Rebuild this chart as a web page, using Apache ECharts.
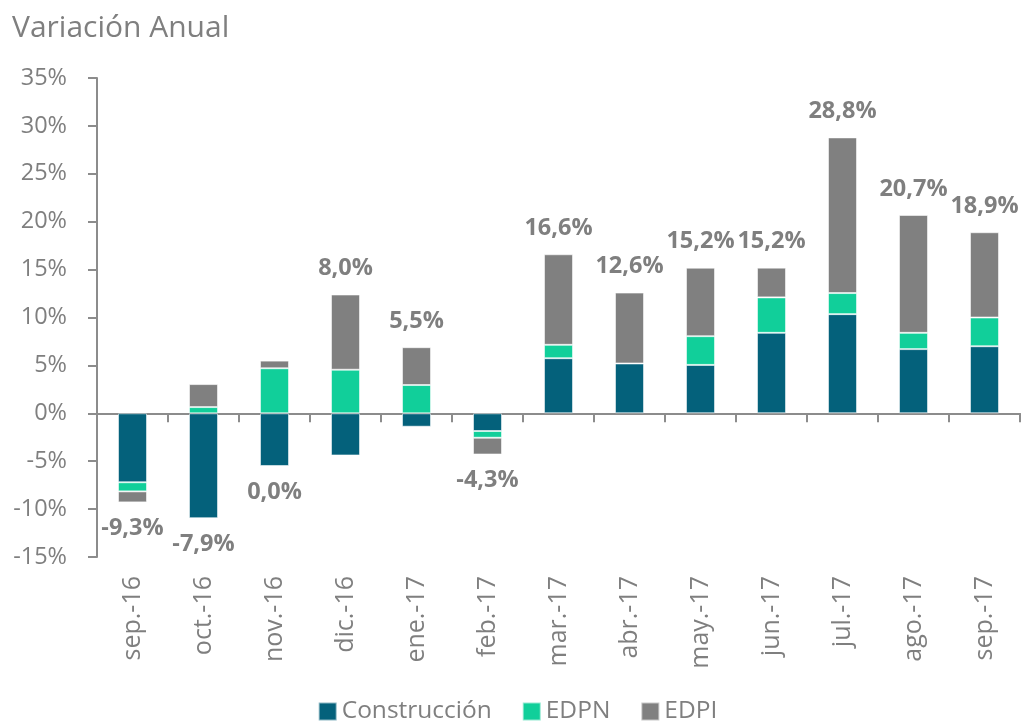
<!DOCTYPE html>
<html><head><meta charset="utf-8">
<script src="https://cdn.jsdelivr.net/npm/echarts@6/dist/echarts.min.js"></script>
<style>html,body{margin:0;padding:0;background:#fff}#c{width:1035px;height:723px}</style>
</head><body><div id="c"></div>
<script>
const categories = ['sep.-16','oct.-16','nov.-16','dic.-16','ene.-17','feb.-17','mar.-17','abr.-17','may.-17','jun.-17','jul.-17','ago.-17','sep.-17'];
const construccion = [-7.2, -10.95, -5.5, -4.4, -1.4, -1.85, 5.75, 5.2, 5.05, 8.4, 10.35, 6.7, 7.0];
const edpn = [-0.95, 0.65, 4.7, 4.55, 2.95, -0.7, 1.4, 0, 3.0, 3.7, 2.2, 1.7, 3.0];
const edpi = [-1.15, 2.4, 0.8, 7.85, 3.95, -1.75, 9.45, 7.4, 7.15, 3.1, 16.25, 12.3, 8.9];
const totalLabels = ['-9,3%','-7,9%','0,0%','8,0%','5,5%','-4,3%','16,6%','12,6%','15,2%','15,2%','28,8%','20,7%','18,9%'];
const seriesNames = ['Construcción','EDPN','EDPI'];
const yTicks = [-15, -10, -5, 0, 5, 10, 15, 20, 25, 30, 35];

const colors = ['#04617b', '#11cf9a', '#808080'];
const allVals = [construccion, edpn, edpi];
const FONT = '"Open Sans", "Noto Sans", sans-serif';
const GREY = '#7f7f7f';

// decide which segment carries the total label
function outerIndex(i) {
  const tot = allVals.reduce((s, a) => s + a[i], 0);
  const up = Math.round(tot * 10) > 0;
  let idx = -1;
  allVals.forEach((a, k) => { if (up ? a[i] > 0 : a[i] < 0) idx = k; });
  return { idx, up };
}
const outer = categories.map((c, i) => outerIndex(i));

const series = allVals.map((vals, k) => ({
  name: seriesNames[k],
  type: 'bar',
  stack: 'total',
  barWidth: 29,
  xAxisIndex: 0,
  itemStyle: { color: colors[k], borderColor: 'rgba(255,255,255,0.55)', borderWidth: 1 },
  data: vals.map((v, i) => ({
    value: v,
    label: {
      show: outer[i].idx === k,
      position: outer[i].up ? 'top' : 'bottom',
      distance: 14,
      formatter: totalLabels[i],
      color: GREY, fontFamily: FONT, fontWeight: 'bold', fontSize: 23.5
    }
  }))
}));

const chart = echarts.init(document.getElementById('c'));
chart.setOption({
  animation: false,
  title: { text: 'Variación Anual', left: 7, top: 8,
    textStyle: { color: GREY, fontFamily: FONT, fontWeight: 'normal', fontSize: 30 } },
  legend: { bottom: -6, left: 'center', itemWidth: 18, itemHeight: 18, itemGap: 30,
    icon: 'rect', data: seriesNames,
    textStyle: { color: GREY, fontFamily: FONT, fontSize: 24.5 } },
  grid: { left: 97, right: 15, top: 78, bottom: 166, containLabel: false },
  xAxis: [
    { type: 'category', data: categories, axisLine: { onZero: true, lineStyle: { color: '#8c8c8c', width: 2 } },
      axisTick: { show: true, length: 9, lineStyle: { color: '#8c8c8c', width: 2 } }, axisLabel: { show: false } },
    { type: 'category', data: categories, position: 'bottom', axisLine: { show: false, onZero: false },
      axisTick: { show: false },
      axisLabel: { rotate: 90, margin: 19, color: GREY, fontFamily: FONT, fontSize: 25 } }
  ],
  yAxis: { type: 'value', min: yTicks[0], max: yTicks[yTicks.length - 1], interval: 5,
    splitLine: { show: false },
    axisLine: { show: true, lineStyle: { color: '#8c8c8c', width: 2 } },
    axisTick: { show: true, length: 9, lineStyle: { color: '#8c8c8c', width: 2 } },
    axisLabel: { margin: 30, color: GREY, fontFamily: FONT, fontSize: 23.5, formatter: v => v + '%' } },
  series: series
});
</script></body></html>
